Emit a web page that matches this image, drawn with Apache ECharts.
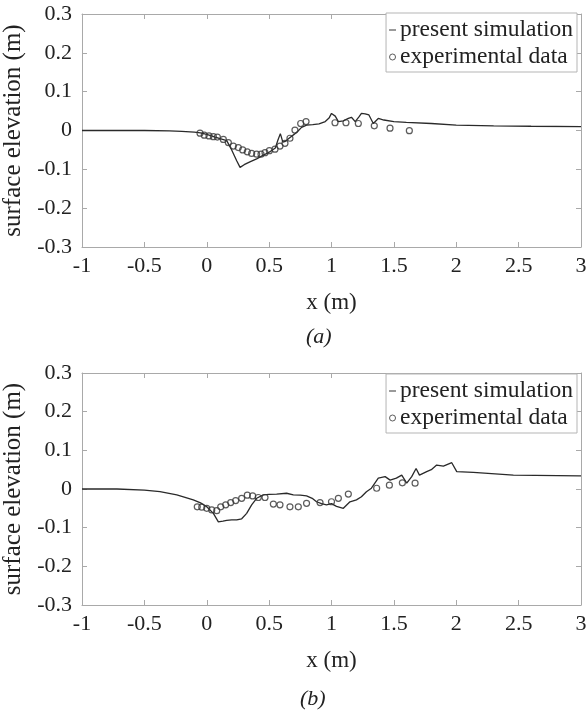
<!DOCTYPE html>
<html>
<head>
<meta charset="utf-8">
<script src="https://cdn.jsdelivr.net/npm/echarts@6/dist/echarts.min.js"></script>
<style>
html,body{margin:0;padding:0;background:#fff;}
#c{width:587px;height:713px;}
</style>
</head>
<body>
<div id="c"></div>
<script>
// ---- data ----
var xTicks = [-1, -0.5, 0, 0.5, 1, 1.5, 2, 2.5, 3];
var yTicks = [-0.3, -0.2, -0.1, 0, 0.1, 0.2, 0.3];
var seriesNames = ['present simulation', 'experimental data'];
var panelLabels = ['(a)', '(b)'];

var aSimX = [-1, -0.5, -0.3, -0.2, -0.1, -0.05, 0.0, 0.05, 0.1, 0.16, 0.2, 0.24, 0.267, 0.3, 0.35, 0.4, 0.45, 0.5, 0.55, 0.57, 0.59, 0.61, 0.63, 0.66, 0.7, 0.73, 0.76, 0.8, 0.85, 0.9, 0.95, 0.98, 1.0, 1.03, 1.055, 1.095, 1.135, 1.16, 1.19, 1.22, 1.24, 1.27, 1.3, 1.335, 1.375, 1.42, 1.5, 1.6, 1.8, 2.0, 2.3, 2.6, 3.0];
var aSimY = [0, 0, -0.001, -0.002, -0.004, -0.006, -0.01, -0.015, -0.02, -0.026, -0.05, -0.078, -0.095, -0.088, -0.08, -0.073, -0.064, -0.056, -0.045, -0.025, -0.008, -0.03, -0.028, -0.02, -0.01, -0.002, 0.008, 0.014, 0.015, 0.017, 0.023, 0.032, 0.044, 0.037, 0.023, 0.025, 0.031, 0.034, 0.023, 0.035, 0.044, 0.043, 0.04, 0.018, 0.031, 0.027, 0.023, 0.021, 0.018, 0.014, 0.012, 0.011, 0.01];
var aExpX = [-0.054, -0.02, 0.018, 0.053, 0.085, 0.133, 0.173, 0.213, 0.253, 0.288, 0.325, 0.36, 0.4, 0.435, 0.467, 0.502, 0.547, 0.587, 0.627, 0.667, 0.707, 0.753, 0.796, 1.028, 1.116, 1.215, 1.343, 1.469, 1.624];
var aExpY = [-0.007, -0.012, -0.014, -0.016, -0.017, -0.023, -0.031, -0.04, -0.044, -0.05, -0.055, -0.059, -0.061, -0.061, -0.057, -0.052, -0.048, -0.04, -0.033, -0.02, 0.001, 0.018, 0.023, 0.02, 0.02, 0.018, 0.012, 0.006, -0.0005];

var bSimX = [-1, -0.72, -0.5, -0.375, -0.24, -0.108, -0.05, 0, 0.053, 0.093, 0.13, 0.16, 0.2, 0.24, 0.28, 0.32, 0.36, 0.4, 0.453, 0.5, 0.56, 0.64, 0.694, 0.75, 0.8, 0.85, 0.88, 0.92, 0.96, 1.0, 1.04, 1.095, 1.148, 1.2, 1.24, 1.28, 1.32, 1.375, 1.43, 1.47, 1.52, 1.563, 1.603, 1.643, 1.678, 1.705, 1.763, 1.8, 1.843, 1.897, 1.964, 2.004, 2.137, 2.458, 2.987, 3.0];
var bSimY = [0, 0, -0.003, -0.007, -0.015, -0.028, -0.036, -0.046, -0.063, -0.085, -0.083, -0.081, -0.08, -0.08, -0.077, -0.063, -0.041, -0.024, -0.015, -0.014, -0.013, -0.011, -0.015, -0.016, -0.018, -0.025, -0.033, -0.038, -0.041, -0.038, -0.045, -0.05, -0.033, -0.028, -0.02, -0.007, 0.002, 0.028, 0.032, 0.023, 0.028, 0.036, 0.015, 0.032, 0.053, 0.036, 0.045, 0.05, 0.062, 0.059, 0.068, 0.045, 0.043, 0.036, 0.034, 0.034];
var bExpX = [-0.076, -0.04, 0, 0.04, 0.08, 0.112, 0.152, 0.192, 0.232, 0.28, 0.325, 0.368, 0.413, 0.467, 0.534, 0.587, 0.667, 0.734, 0.8, 0.908, 1.0, 1.055, 1.135, 1.362, 1.464, 1.568, 1.67];
var bExpY = [-0.046, -0.047, -0.05, -0.054, -0.056, -0.046, -0.041, -0.035, -0.03, -0.024, -0.016, -0.018, -0.022, -0.022, -0.039, -0.041, -0.046, -0.046, -0.037, -0.035, -0.033, -0.024, -0.013, 0.002, 0.01, 0.016, 0.015];

// ---- helpers ----
function zip(xs, ys) { return xs.map(function (x, i) { return [x, ys[i]]; }); }
var FONT = 'Liberation Serif';
var AX = '#a9a9a9';
var INK = '#222';

var grids = [
  { left: 82, top: 14, width: 499, height: 233, containLabel: false, outerBoundsMode: 'none' },
  { left: 82, top: 373, width: 499, height: 232, containLabel: false, outerBoundsMode: 'none' }
];

var xAxes = [], yAxes = [], series = [], legends = [];
grids.forEach(function (g, gi) {
  xAxes.push({
    type: 'value', gridIndex: gi, position: 'bottom',
    min: xTicks[0], max: xTicks[xTicks.length - 1], interval: 0.5,
    name: 'x (m)', nameLocation: 'middle', nameGap: 44,
    nameTextStyle: { fontFamily: FONT, fontSize: 23, color: INK },
    axisLine: { show: true, onZero: false, lineStyle: { color: AX, width: 1 } },
    axisTick: { show: true, inside: true, length: 5, lineStyle: { color: AX } },
    axisLabel: { margin: 8, fontFamily: FONT, fontSize: 22, color: INK },
    splitLine: { show: false }
  });
  xAxes.push({
    type: 'value', gridIndex: gi, position: 'top',
    min: xTicks[0], max: xTicks[xTicks.length - 1], interval: 0.5,
    axisLine: { show: true, onZero: false, lineStyle: { color: AX, width: 1 } },
    axisTick: { show: true, inside: true, length: 5, lineStyle: { color: AX } },
    axisLabel: { show: false }, splitLine: { show: false }
  });
  yAxes.push({
    type: 'value', gridIndex: gi, position: 'left',
    min: yTicks[0], max: yTicks[yTicks.length - 1], interval: 0.1,
    name: 'surface elevation (m)', nameLocation: 'middle', nameGap: 53,
    nameTextStyle: { fontFamily: FONT, fontSize: 25, color: INK },
    axisLine: { show: true, onZero: false, lineStyle: { color: AX, width: 1 } },
    axisTick: { show: true, inside: true, length: 5, lineStyle: { color: AX } },
    axisLabel: {
      margin: 10, fontFamily: FONT, fontSize: 22, color: INK,
      formatter: function (v) { return String(Math.round(v * 10) / 10); }
    },
    splitLine: { show: false }
  });
  yAxes.push({
    type: 'value', gridIndex: gi, position: 'right',
    min: yTicks[0], max: yTicks[yTicks.length - 1], interval: 0.1,
    axisLine: { show: true, onZero: false, lineStyle: { color: AX, width: 1 } },
    axisTick: { show: true, inside: true, length: 5, lineStyle: { color: AX } },
    axisLabel: { show: false }, splitLine: { show: false }
  });
});

var simData = [zip(aSimX, aSimY), zip(bSimX, bSimY)];
var expData = [zip(aExpX, aExpY), zip(bExpX, bExpY)];

for (var gi = 0; gi < 2; gi++) {
  series.push({
    name: seriesNames[0], type: 'line',
    xAxisIndex: gi * 2, yAxisIndex: gi * 2,
    data: simData[gi], showSymbol: false, symbol: 'none',
    lineStyle: { color: '#2a2a2a', width: 1.3 },
    itemStyle: { color: '#2a2a2a' },
    z: 2
  });
  series.push({
    name: seriesNames[1], type: 'scatter',
    xAxisIndex: gi * 2, yAxisIndex: gi * 2,
    data: expData[gi], symbol: 'circle', symbolSize: 6,
    itemStyle: { color: 'rgba(0,0,0,0)', borderColor: '#333', borderWidth: 1.2 },
    z: 3
  });
}

var legendTops = [13, 374];
legendTops.forEach(function (t) {
  legends.push({
    orient: 'vertical', right: 10, top: t,
    padding: [5, 4, 3, 3], itemGap: 3,
    itemWidth: 7, itemHeight: 6,
    borderColor: '#b5b5b5', borderWidth: 1, backgroundColor: '#fff',
    selectedMode: false,
    textStyle: { fontFamily: FONT, fontSize: 23.5, color: INK, lineHeight: 24, padding: [0, 0, 0, -1] },
    data: [
      { name: seriesNames[0], icon: 'path://M0,0L10,0L10,1.3L0,1.3Z', itemStyle: { color: '#222' } },
      { name: seriesNames[1], icon: 'circle', itemStyle: { color: 'rgba(0,0,0,0)', borderColor: '#333', borderWidth: 1 } }
    ]
  });
});

var chart = echarts.init(document.getElementById('c'), null, { renderer: 'canvas' });
chart.setOption({
  animation: false,
  backgroundColor: '#fff',
  grid: grids,
  xAxis: xAxes,
  yAxis: yAxes,
  legend: legends,
  series: series,
  graphic: [
    { type: 'text', left: 306, top: 326, style: { text: panelLabels[0], font: 'italic 22px "Liberation Serif"', fill: INK } },
    { type: 'text', left: 300, top: 688, style: { text: panelLabels[1], font: 'italic 22px "Liberation Serif"', fill: INK } }
  ]
});
</script>
</body>
</html>
